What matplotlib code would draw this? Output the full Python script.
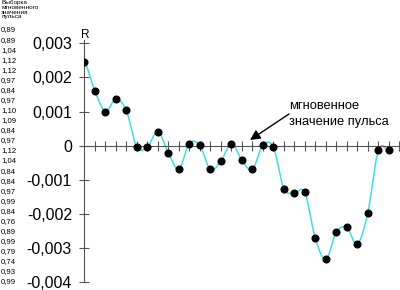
import numpy as np
import matplotlib
matplotlib.use('Agg')
import matplotlib.pyplot as plt

# pulse deviation values R (x 0.001)
r_values = [2.46, 1.61, 1.00, 1.37, 1.03, -0.04, -0.04, 0.41, -0.21, -0.69,
            0.06, 0.01, -0.70, -0.46, 0.06, -0.43, -0.70, 0.01, -0.04, -1.26,
            -1.39, -1.37, -2.72, -3.34, -2.54, -2.40, -2.89, -1.97, -0.14, -0.14]
r_values = [v * 0.001 for v in r_values]

y_ticks = [-0.004, -0.003, -0.002, -0.001, 0, 0.001, 0.002, 0.003]
y_labels = ['-0,004', '-0,003', '-0,002', '-0,001', '0', '0,001', '0,002', '0,003']

# sample of instantaneous pulse values (left column)
sample_values = ['0,89', '0,89', '1,04', '1,12', '1,12', '0,97', '0,84', '0,97', '1,10',
                 '1,09', '0,84', '0,97', '1,12', '1,04', '0,84', '0,84', '0,97', '0,99',
                 '0,84', '0,76', '0,89', '0,99', '0,79', '0,74', '0,93', '0,99']
sample_header = ['Выборка', 'мгновенного', 'значения', 'пульса']

annot_text = 'мгновенное\nзначение пульса'


def smooth_curve(y, steps=12):
    # Catmull-Rom spline through the points, only for drawing the line
    y = np.asarray(y)
    x = np.arange(len(y), dtype=float)
    p = np.concatenate([[y[0]], y, [y[-1]]])
    xs, ys = [], []
    t = np.linspace(0, 1, steps, endpoint=False)
    for i in range(len(y) - 1):
        p0, p1, p2, p3 = p[i], p[i + 1], p[i + 2], p[i + 3]
        seg = 0.5 * ((2 * p1) + (-p0 + p2) * t + (2 * p0 - 5 * p1 + 4 * p2 - p3) * t ** 2
                     + (-p0 + 3 * p1 - 3 * p2 + p3) * t ** 3)
        xs.append(x[i] + t)
        ys.append(seg)
    xs.append([x[-1]])
    ys.append([y[-1]])
    return np.concatenate(xs), np.concatenate(ys)


plt.rcParams['font.family'] = ['Liberation Sans', 'DejaVu Sans']

fig = plt.figure(figsize=(4, 2.9), dpi=100)
ax = fig.add_axes([0.2108, 0.0276, 0.7875, 0.8348])

xs, ys = smooth_curve(r_values)
ax.plot(xs, ys, color='#3fdde3', lw=1.1, zorder=2)
ax.plot(range(len(r_values)), r_values, 'o', color='black', markersize=4.8, zorder=3)

ax.set_xlim(0, 30)
ax.set_ylim(-0.004, 0.0031)

for side in ['top', 'right']:
    ax.spines[side].set_visible(False)
ax.spines['bottom'].set_position(('data', 0))
ax.spines['left'].set_position(('data', 0))
for side in ['bottom', 'left']:
    ax.spines[side].set_color('#555555')
    ax.spines[side].set_linewidth(0.8)

ax.set_xticks(range(1, 31))
ax.set_xticklabels([])
ax.tick_params(axis='x', direction='inout', length=7, width=0.8, color='#555555')
ax.set_yticks(y_ticks)
ax.set_yticklabels(y_labels)
ax.tick_params(axis='y', direction='inout', length=7, width=0.8, color='#555555',
               labelsize=11.5, pad=5.4)

fig.text(85.5 / 400, 1 - 35 / 290, 'R', fontsize=8.5, ha='center', va='center')

ax.annotate(annot_text, xy=(250 / 400, 1 - 140 / 290), xycoords='figure fraction',
            xytext=(289 / 400, 1 - 114 / 290), textcoords='figure fraction',
            fontsize=9.3, ha='left', va='center', linespacing=1.5,
            arrowprops=dict(arrowstyle='-|>', color='black', lw=1.0,
                            mutation_scale=15, shrinkA=0, shrinkB=0,
                            relpos=(0, 0.5), patchA=None),
            annotation_clip=False)

for i, line in enumerate(sample_header):
    fig.text(1 / 400, 1 - (2.5 + i * 4.8) / 290, line, fontsize=4.6,
             ha='left', va='center')
for i, val in enumerate(sample_values):
    fig.text(1 / 400, 1 - (30 + i * 10.08) / 290, val, fontsize=5.6,
             ha='left', va='center')

fig.savefig('out.png', dpi=100)
